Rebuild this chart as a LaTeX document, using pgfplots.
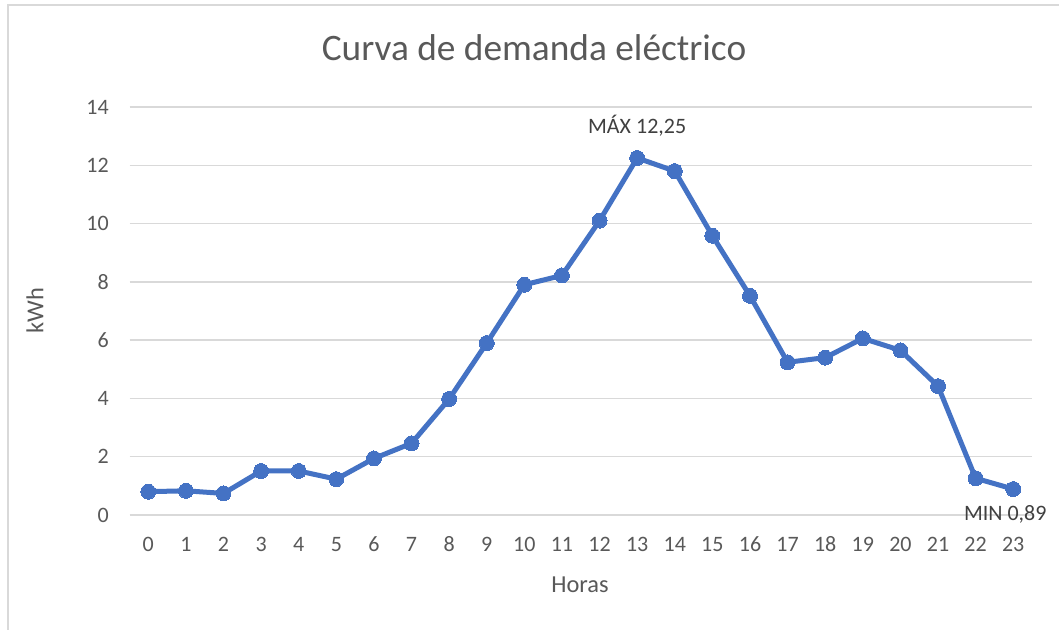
\documentclass[border=0pt]{standalone}
\usepackage{fontspec}
\setmainfont{Carlito}
\usepackage{pgfplots}
\pgfplotsset{compat=1.18}
\definecolor{exblue}{HTML}{4472C4}
\definecolor{extext}{HTML}{595959}
\definecolor{exgrid}{HTML}{D9D9D9}
\definecolor{exlabel}{HTML}{404040}
\begin{document}
\begin{tikzpicture}[x=1pt,y=1pt]
\useasboundingbox (0,0) rectangle (794.25,472.5);
\fill[white] (0,0) rectangle (794.25,472.5);
\draw[exgrid, line width=1pt] (6,-5) -- (6,468.75) -- (800,468.75);
\begin{axis}[
  at={(97.125pt,86.25pt)}, anchor=south west,
  scale only axis, width=676.9pt, height=306pt,
  xmin=-0.5, xmax=23.5, ymin=0, ymax=14,
  xtick={0,...,23}, ytick={0,2,...,14},
  axis line style={draw=none},
  major tick length=0pt,
  ymajorgrids, grid style={exgrid, line width=1.1pt},
  tick label style={font=\fontsize{16.5}{20}\selectfont, text=extext},
  /pgf/number format/assume math mode=true,
  xticklabel style={yshift=-13pt, text height=11pt, text depth=0pt},
  yticklabel style={xshift=-12pt},
  clip=false
]
\addplot[exblue, line width=3.75pt, line join=round, mark=*, mark size=5.6pt,
  mark options={fill=exblue, draw=exblue, line width=0pt}] coordinates {
  (0,0.80) (1,0.83) (2,0.74) (3,1.51) (4,1.51) (5,1.23) (6,1.94) (7,2.46)
  (8,3.98) (9,5.90) (10,7.90) (11,8.22) (12,10.10) (13,12.25) (14,11.80)
  (15,9.58) (16,7.52) (17,5.24) (18,5.40) (19,6.06) (20,5.65) (21,4.42)
  (22,1.26) (23,0.89)
};
\node[text=exlabel, font=\fontsize{16.5}{20}\selectfont, yshift=24pt] at (axis cs:13,12.25) {MÁX 12,25};
\node[text=exlabel, font=\fontsize{16.5}{20}\selectfont, xshift=-6pt, yshift=-18.75pt] at (axis cs:23,0.89) {MIN 0,89};
\end{axis}
\node[text=extext, font=\fontsize{28}{33}\selectfont] at (400.5,436.5) {Curva de demanda eléctrico};
\node[text=extext, font=\fontsize{18.3}{22}\selectfont] at (435,33.75) {Horas};
\node[text=extext, font=\fontsize{18.3}{22}\selectfont, rotate=90] at (26.25,239.25) {kWh};
\end{tikzpicture}
\end{document}
